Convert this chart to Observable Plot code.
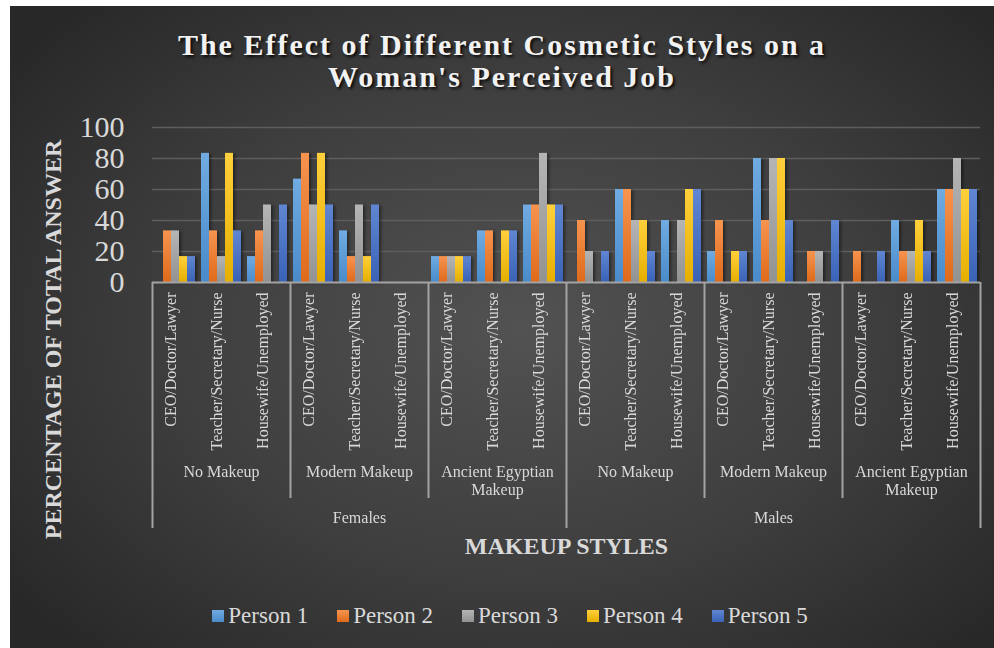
<!DOCTYPE html>
<html>
<head>
<meta charset="utf-8">
<script src="https://cdn.jsdelivr.net/npm/d3@7"></script>
<script src="https://cdn.jsdelivr.net/npm/@observablehq/plot@0.6"></script>
<style>
html, body { margin: 0; padding: 0; background: #ffffff; }
#card {
  position: absolute; left: 10px; top: 6px; width: 984px; height: 642px; overflow: hidden;
  background: radial-gradient(ellipse 65% 70% at 52% 50%, #525252 0%, #3e3e3e 55%, #282828 100%);
  font-family: "Liberation Serif", "Times New Roman", serif;
}
#title {
  height: 100px; box-sizing: border-box; padding-top: 23px; text-align: center;
  color: #f2f2f2; font-weight: bold; font-size: 30px; line-height: 32px; letter-spacing: 2px;
  text-shadow: 2px 2px 3px rgba(0,0,0,0.85);
}
#chart { height: 470px; }
#legend {
  display: flex; justify-content: center; align-items: center; gap: 29px;
  padding-left: 16px; margin-top: 26px; height: 28px;
  color: #d9d9d9; font-size: 23px;
}
#legend .item { display: flex; align-items: center; gap: 4px; }
#legend .sw { width: 12px; height: 12px; display: inline-block; }
</style>
</head>
<body>
<div id="card">
  <div id="title">The Effect of Different Cosmetic Styles on a<br>Woman's Perceived Job</div>
  <div id="chart"></div>
  <div id="legend"></div>
</div>
<script>
// ---- data ----
const genders = ["Females", "Males"];
const styles = ["No Makeup", "Modern Makeup", "Ancient Egyptian\nMakeup"];
const jobs = ["CEO/Doctor/Lawyer", "Teacher/Secretary/Nurse", "Housewife/Unemployed"];
const persons = ["Person 1", "Person 2", "Person 3", "Person 4", "Person 5"];
const yTicks = [0, 20, 40, 60, 80, 100];
const yLabel = "PERCENTAGE OF TOTAL ANSWER";
const xLabel = "MAKEUP STYLES";
// order: Females (No, Modern, Ancient) x (CEO, Teacher, Housewife), then Males
const person1 = [0, 83.3, 16.7, 66.7, 33.3, 0, 16.7, 33.3, 50, 0, 60, 40, 20, 80, 0, 0, 40, 60];
const person2 = [33.3, 33.3, 33.3, 83.3, 16.7, 0, 16.7, 33.3, 50, 40, 60, 0, 40, 40, 20, 20, 20, 60];
const person3 = [33.3, 16.7, 50, 50, 50, 0, 16.7, 0, 83.3, 20, 40, 40, 0, 80, 20, 0, 20, 80];
const person4 = [16.7, 83.3, 0, 83.3, 16.7, 0, 16.7, 33.3, 50, 0, 40, 60, 20, 80, 0, 0, 40, 60];
const person5 = [16.7, 33.3, 50, 50, 50, 0, 16.7, 33.3, 50, 20, 20, 60, 20, 40, 40, 20, 20, 60];
const personValues = [person1, person2, person3, person4, person5];
const gradTop = ["#70abe1", "#f6944f", "#b5b5b5", "#ffd03c", "#6086d2"];
const gradBottom = ["#4a8bcb", "#df6a1b", "#929292", "#e6af00", "#3a62b6"];

// ---- build tables ----
const cats = [];
genders.forEach((g, gi) => styles.forEach((s, si) => jobs.forEach((j, ji) => {
  cats.push({key: `${g}|${s}|${j}`, gender: g, style: s, job: j, gi, si, ji});
})));
const keys = cats.map(c => c.key);
const table = [];
cats.forEach((c, k) => persons.forEach((p, pi) => {
  table.push({key: c.key, person: p, pi, value: personValues[pi][k]});
}));

const halfGap = 3;
const font = "Liberation Serif, Times New Roman, serif";
const axisStroke = "#a3a3a3";
const labelFill = "#d9d9d9";

const chart = Plot.plot({
  width: 984,
  height: 470,
  marginLeft: 142,
  marginRight: 14,
  marginTop: 21,
  marginBottom: 294,
  style: {background: "transparent", color: labelFill, fontFamily: font, fontSize: "30px", overflow: "visible"},
  fx: {domain: keys, paddingInner: 0.13, paddingOuter: 0.065, axis: null, label: null},
  x: {domain: [0, 5], axis: null},
  y: {domain: [0, 100], ticks: yTicks, tickSize: 0, tickPadding: 31, label: null, tickFormat: d => String(d)},
  color: {domain: persons, range: persons.map((p, i) => `url(#bar${i})`)},
  marks: [
    Plot.ruleY(yTicks.filter(t => t > 0), {stroke: "#5e5e5e", strokeWidth: 1.5, insetLeft: -halfGap, insetRight: -halfGap}),
    Plot.rect(table, {fx: "key", x1: "pi", x2: d => d.pi + 1, y1: () => 0, y2: "value", fill: "person"}),
    Plot.ruleY([0], {stroke: axisStroke, strokeWidth: 2, insetLeft: -halfGap, insetRight: -halfGap}),
    // group separators
    Plot.ruleX(cats.filter(c => c.ji === 0 && c.si > 0), {fx: "key", x: () => 0, y1: () => 0, y2: () => 0, dx: -halfGap, insetBottom: -216, stroke: axisStroke, strokeWidth: 2}),
    // gender separators
    Plot.ruleX(cats.filter(c => c.ji === 0 && c.si === 0), {fx: "key", x: () => 0, y1: () => 0, y2: () => 0, dx: -halfGap, insetBottom: -246, stroke: axisStroke, strokeWidth: 2}),
    Plot.ruleX(cats.slice(-1), {fx: "key", x: () => 5, y1: () => 0, y2: () => 0, dx: halfGap, insetBottom: -246, stroke: axisStroke, strokeWidth: 2}),
    // job labels
    Plot.text(cats, {fx: "key", text: "job", frameAnchor: "bottom", rotate: -90, textAnchor: "end", dy: 10, fontSize: 16, fill: labelFill}),
    // style labels
    Plot.text(cats.filter(c => c.ji === 1), {fx: "key", text: "style", frameAnchor: "bottom", lineAnchor: "top", lineHeight: 1.13, dy: 182, fontSize: 16, fill: labelFill}),
    // gender labels
    Plot.text(cats.filter(c => c.ji === 1 && c.si === 1), {fx: "key", text: "gender", frameAnchor: "bottom", dy: 240, fontSize: 16, fill: labelFill}),
    // axis titles
    Plot.text(cats.filter(c => c.gi === 1 && c.si === 0 && c.ji === 0), {fx: "key", text: () => xLabel, frameAnchor: "bottom-left", textAnchor: "middle", dx: -halfGap, dy: 271, fontSize: 24, fontWeight: "bold", fill: labelFill}),
    Plot.text(cats.slice(0, 1), {fx: "key", text: () => yLabel, frameAnchor: "left", textAnchor: "middle", rotate: -90, dx: -102.5, dy: 134.5, fontSize: 24, fontWeight: "bold", fill: labelFill})
  ]
});

// gradients and shadow (style only)
const defs = d3.select(chart).insert("defs", ":first-child");
persons.forEach((p, i) => {
  const lg = defs.append("linearGradient").attr("id", `bar${i}`).attr("x1", 0).attr("y1", 0).attr("x2", 0).attr("y2", 1);
  lg.append("stop").attr("offset", "0%").attr("stop-color", gradTop[i]);
  lg.append("stop").attr("offset", "100%").attr("stop-color", gradBottom[i]);
});
const f = defs.append("filter").attr("id", "shadow").attr("x", "-50%").attr("y", "-10%").attr("width", "200%").attr("height", "120%");
f.append("feDropShadow").attr("dx", 2).attr("dy", 1).attr("stdDeviation", 1.5).attr("flood-color", "#000").attr("flood-opacity", 0.45);
chart.querySelectorAll('g[aria-label="rect"]').forEach(g => g.setAttribute("filter", "url(#shadow)"));

document.getElementById("chart").appendChild(chart);

// legend
const legend = d3.select("#legend");
persons.forEach((p, i) => {
  const it = legend.append("div").attr("class", "item");
  it.append("span").attr("class", "sw").style("background", `linear-gradient(${gradTop[i]}, ${gradBottom[i]})`);
  it.append("span").text(p);
});
</script>
</body>
</html>
